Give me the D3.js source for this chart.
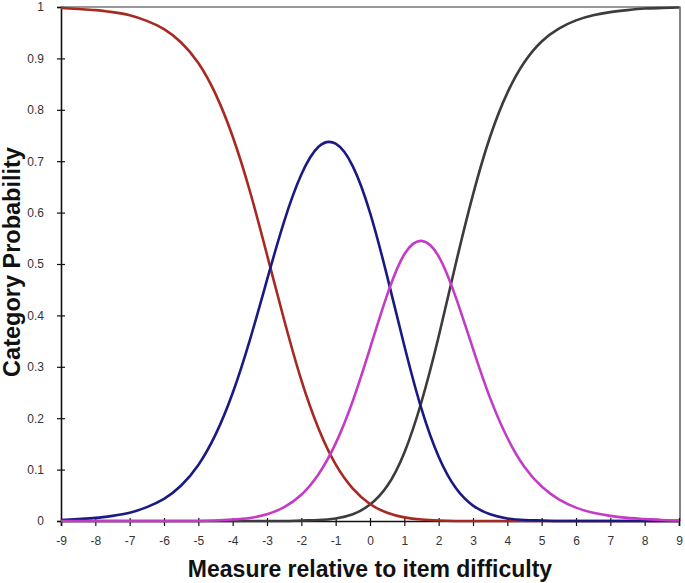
<!DOCTYPE html>
<html>
<head>
<meta charset="utf-8">
<script src="https://cdn.jsdelivr.net/npm/d3@7"></script>
<style>
  html, body { margin: 0; padding: 0; background: #fff; }
  svg { display: block; font-family: Arial, "Liberation Sans", sans-serif; }
</style>
</head>
<body>
<svg id="chart" width="685" height="583"></svg>
<script>
// measure values (x), read every half logit
const measures = [-9, -8.5, -8, -7.5, -7, -6.5, -6, -5.5, -5, -4.5, -4, -3.5, -3, -2.5, -2, -1.5, -1, -0.5,
  0, 0.5, 1, 1.5, 2, 2.5, 3, 3.5, 4, 4.5, 5, 5.5, 6, 6.5, 7, 7.5, 8, 8.5, 9]

// category probabilities
const cat1 = [0.998, 0.996, 0.994, 0.990, 0.984, 0.973, 0.957, 0.931, 0.891, 0.831, 0.748, 0.642, 0.518, 0.391, 0.274, 0.180, 0.110, 0.063,
  0.033, 0.016, 0.007, 0.003, 0.001, 0, 0, 0, 0, 0, 0, 0, 0, 0, 0, 0, 0, 0, 0]
const cat2 = [0.002, 0.004, 0.006, 0.010, 0.016, 0.027, 0.043, 0.069, 0.109, 0.168, 0.249, 0.352, 0.469, 0.583, 0.674, 0.728, 0.734, 0.690,
  0.600, 0.476, 0.341, 0.218, 0.125, 0.064, 0.030, 0.013, 0.005, 0.002, 0.001, 0, 0, 0, 0, 0, 0, 0, 0]
const cat3 = [0, 0, 0, 0, 0, 0, 0, 0, 0, 0.001, 0.003, 0.006, 0.013, 0.027, 0.051, 0.091, 0.151, 0.234,
  0.336, 0.440, 0.519, 0.545, 0.515, 0.435, 0.335, 0.239, 0.162, 0.105, 0.067, 0.042, 0.026, 0.016, 0.010, 0.006, 0.004, 0.002, 0.001]
const cat4 = [0, 0, 0, 0, 0, 0, 0, 0, 0, 0, 0, 0, 0, 0, 0.001, 0.002, 0.005, 0.013,
  0.032, 0.068, 0.133, 0.232, 0.359, 0.501, 0.635, 0.748, 0.833, 0.893, 0.933, 0.958, 0.974, 0.984, 0.990, 0.994, 0.997, 0.998, 0.999]

const xTicks = d3.range(-9, 10)
const yTicks = [0, 0.1, 0.2, 0.3, 0.4, 0.5, 0.6, 0.7, 0.8, 0.9, 1]

const plotLeft = 61, plotRight = 679, plotTop = 7, plotBottom = 521

const svg = d3.select("#chart")

const xScale = d3.scaleLinear().domain([-9, 9]).range([plotLeft, plotRight])
const yScale = d3.scaleLinear().domain([0, 1]).range([plotBottom, plotTop])

// frame on top and right
svg.append("path")
  .attr("d", `M${plotLeft},${plotTop}H${plotRight + 1}V${plotBottom}`)
  .attr("fill", "none")
  .attr("stroke", "#333")
  .attr("stroke-width", 1.2)

// axes
const xAxis = d3.axisBottom(xScale).tickValues(xTicks).tickSize(5).tickFormat(d => d)
const yAxis = d3.axisLeft(yScale).tickValues(yTicks).tickSize(4).tickFormat(d => d)

const gx = svg.append("g").attr("transform", `translate(0,${plotBottom})`).call(xAxis)
gx.select(".domain").attr("stroke", "#111").attr("stroke-width", 1.6)
gx.selectAll(".tick line").attr("y1", -3).attr("stroke", "#111").attr("stroke-width", 1.2)
gx.selectAll(".tick text")
  .attr("y", 15)
  .attr("font-size", 12)
  .attr("fill", "#333")
  .attr("font-family", "Arial, 'Liberation Sans', sans-serif")
  .text(d => d < 0 ? "-" + Math.abs(d) : d)

const gy = svg.append("g").attr("transform", `translate(${plotLeft},0)`).call(yAxis)
gy.select(".domain").attr("stroke", "#111").attr("stroke-width", 1.6)
gy.selectAll(".tick line").attr("x1", 4).attr("stroke", "#111").attr("stroke-width", 1.2)
gy.selectAll(".tick text")
  .attr("x", -17)
  .attr("font-size", 12)
  .attr("fill", "#333")
  .attr("font-family", "Arial, 'Liberation Sans', sans-serif")

// curves
const line = d3.line()
  .x((d, i) => xScale(measures[i]))
  .y(d => yScale(d))
  .curve(d3.curveNatural)

const series = [
  {values: cat4, color: "#3c3c3c"},
  {values: cat1, color: "#a82822"},
  {values: cat2, color: "#1a1a82"},
  {values: cat3, color: "#c23cc6"}
]

svg.selectAll(".curve")
  .data(series)
  .join("path")
  .attr("class", "curve")
  .attr("d", d => line(d.values))
  .attr("fill", "none")
  .attr("stroke", d => d.color)
  .attr("stroke-width", 2.6)

// titles
svg.append("text")
  .attr("x", 370)
  .attr("y", 577)
  .attr("text-anchor", "middle")
  .attr("font-size", 23)
  .attr("font-weight", "bold")
  .attr("fill", "#111")
  .text("Measure relative to item difficulty")

svg.append("text")
  .attr("transform", "translate(20,262) rotate(-90)")
  .attr("text-anchor", "middle")
  .attr("font-size", 23.5)
  .attr("font-weight", "bold")
  .attr("fill", "#111")
  .text("Category Probability")
</script>
</body>
</html>
